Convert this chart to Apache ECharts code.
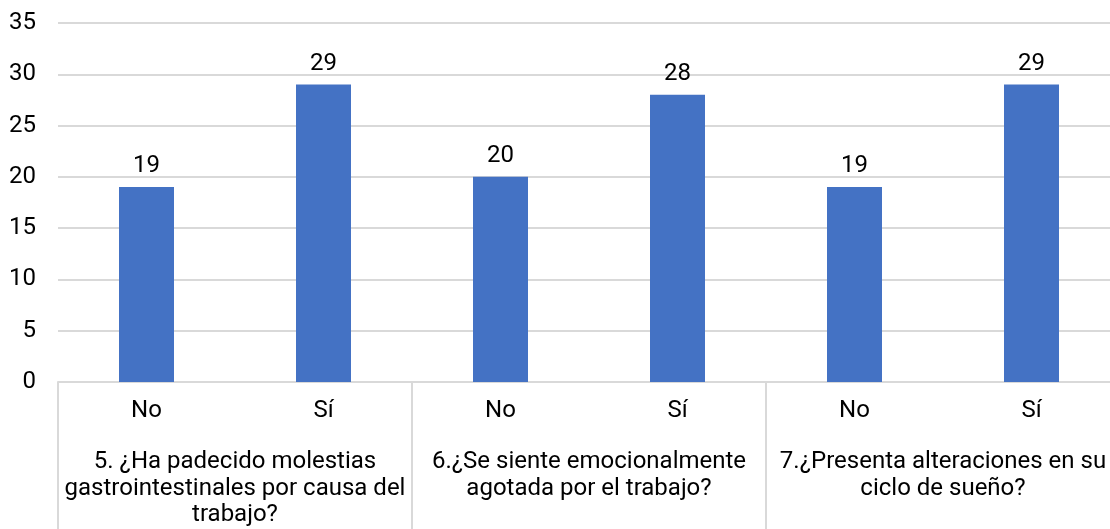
<!DOCTYPE html>
<html>
<head>
<meta charset="utf-8">
<script src="https://cdn.jsdelivr.net/npm/echarts@6/dist/echarts.min.js"></script>
<style>
  html, body { margin: 0; padding: 0; background: #fff; }
  #chart { width: 1110px; height: 529px; }
</style>
</head>
<body>
<div id="chart"></div>
<script>
// answers per question
var answers = ['No', 'Sí', 'No', 'Sí', 'No', 'Sí']
var counts = [19, 29, 20, 28, 19, 29]
var questions = [
  '5. ¿Ha padecido molestias\ngastrointestinales por causa del\ntrabajo?',
  '6.¿Se siente emocionalmente\nagotada por el trabajo?',
  '7.¿Presenta alteraciones en su\nciclo de sueño?'
]
var yMax = 35
var yStep = 5

var txt = '#000'
var gridCol = '#d9d9d9'
var font = 'Roboto'
var fs = 24

var chart = echarts.init(document.getElementById('chart'))
chart.setOption({
  animation: false,
  grid: { left: 58, width: 1062, top: 23, height: 359, outerBoundsMode: 'none', containLabel: false },
  xAxis: [
    {
      type: 'category',
      data: answers,
      axisLine: { lineStyle: { color: gridCol, width: 2 } },
      axisTick: { show: false },
      axisLabel: { interval: 0, color: txt, fontSize: fs, fontFamily: font, margin: 16, lineHeight: 26 }
    },
    {
      type: 'category',
      data: questions,
      position: 'bottom',
      offset: 0,
      axisLine: { show: false },
      axisTick: { show: true, interval: 0, inside: false, length: 160, lineStyle: { color: gridCol, width: 2 } },
      axisLabel: { interval: 0, color: txt, fontSize: fs, fontFamily: font, margin: 67, lineHeight: 26.5, align: 'center' }
    }
  ],
  yAxis: {
    type: 'value',
    min: 0,
    max: yMax,
    interval: yStep,
    axisLine: { show: false },
    axisTick: { show: false },
    axisLabel: { color: txt, fontSize: fs, fontFamily: font, margin: 22 },
    splitLine: { lineStyle: { color: gridCol, width: 2 } }
  },
  series: [
    {
      type: 'bar',
      data: counts,
      barWidth: 55,
      itemStyle: { color: '#4472c4' },
      label: { show: true, position: 'top', distance: 9, color: txt, fontSize: fs, fontFamily: font }
    }
  ]
})
</script>
</body>
</html>
